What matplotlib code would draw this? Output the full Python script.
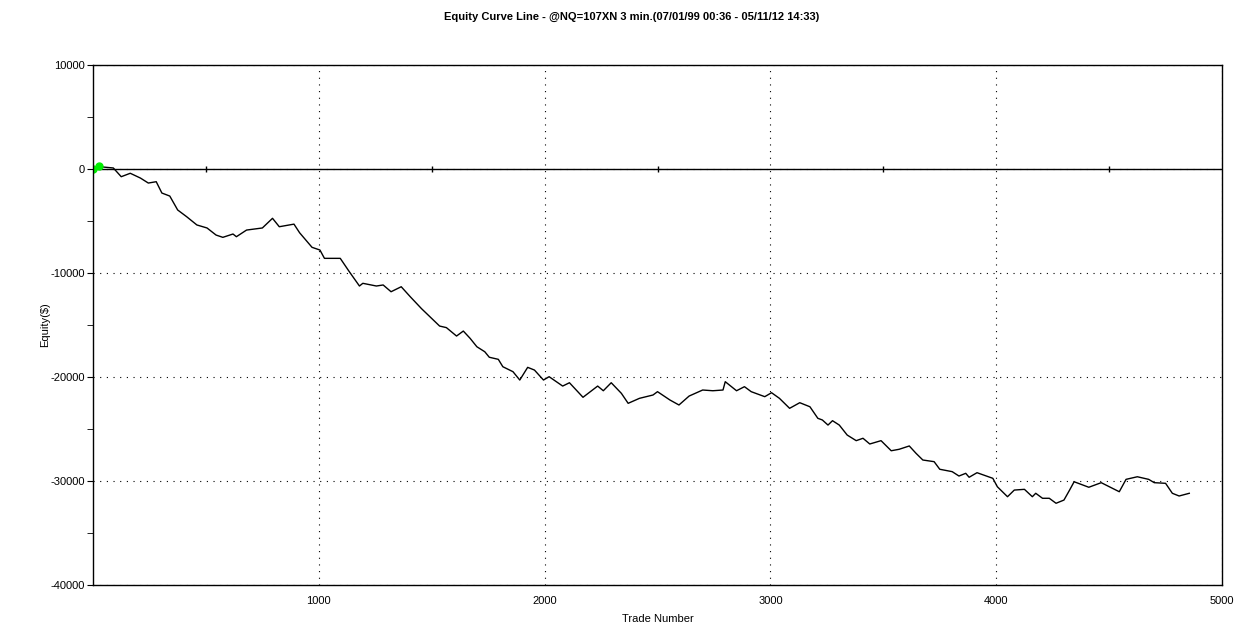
import matplotlib
matplotlib.use('Agg')
import matplotlib.pyplot as plt
import matplotlib.ticker as ticker
import numpy as np

# equity curve (trade number, equity $)
trades = [0, 30, 90, 125, 165, 210, 245, 280, 305, 340, 375, 415, 460, 505, 545, 575,
          620, 635, 680, 750, 795, 825, 870, 890, 915, 970, 1005, 1025, 1095, 1135,
          1180, 1195, 1255, 1285, 1320, 1365, 1405, 1455, 1535, 1565, 1610, 1640, 1670,
          1700, 1735, 1755, 1795, 1815, 1860, 1890, 1925, 1955, 1995, 2020, 2080, 2110,
          2170, 2235, 2260, 2295, 2340, 2370, 2420, 2480, 2500, 2555, 2595, 2640, 2700,
          2745, 2790, 2800, 2850, 2885, 2915, 2975, 3005, 3040, 3085, 3130, 3175, 3210,
          3230, 3255, 3275, 3305, 3340, 3380, 3410, 3440, 3490, 3535, 3570, 3615, 3645,
          3675, 3725, 3750, 3805, 3835, 3865, 3880, 3915, 3985, 4005, 4050, 4080, 4125,
          4160, 4175, 4205, 4235, 4265, 4300, 4325, 4345, 4410, 4465, 4515, 4545, 4575,
          4625, 4675, 4700, 4750, 4780, 4810, 4855]
equity = [0, 220, 100, -740, -410, -870, -1350, -1220, -2310, -2600, -3940, -4590, -5380,
          -5670, -6350, -6570, -6250, -6510, -5870, -5670, -4740, -5550, -5380, -5300,
          -6130, -7530, -7790, -8590, -8590, -9870, -11250, -10990, -11250, -11150,
          -11800, -11320, -12280, -13430, -15100, -15250, -16060, -15580, -16280, -17090,
          -17570, -18100, -18300, -19010, -19490, -20290, -19070, -19330, -20290, -19970,
          -20870, -20550, -21950, -20870, -21320, -20550, -21570, -22530, -22050, -21730,
          -21410, -22210, -22690, -21830, -21250, -21320, -21250, -20450, -21320, -20930,
          -21410, -21890, -21510, -22050, -23010, -22470, -22860, -23970, -24130, -24620,
          -24200, -24620, -25580, -26120, -25890, -26440, -26120, -27090, -26950, -26630,
          -27340, -27980, -28140, -28870, -29100, -29520, -29260, -29640, -29200, -29740,
          -30550, -31510, -30870, -30800, -31510, -31180, -31660, -31660, -32140, -31830,
          -30870, -30070, -30600, -30160, -30700, -31030, -29840, -29590, -29840, -30160,
          -30220, -31180, -31440, -31180]
start_trades = [0, 25]
start_equity = [0, 300]
zero_ticks = np.arange(500, 5000, 1000)

plt.rcParams['font.family'] = ['Liberation Sans', 'DejaVu Sans']
plt.rcParams['axes.unicode_minus'] = False

fig = plt.figure(figsize=(12.4, 6.33), dpi=100)
ax = fig.add_axes([0.075, 0.0758, 0.9105, 0.8215])

ax.plot(trades, equity, color='black', linewidth=1.0)
ax.axhline(0, color='black', linewidth=1.0)
ax.plot(zero_ticks, np.zeros(len(zero_ticks)), linestyle='none', marker='|',
        color='black', markersize=5, markeredgewidth=1.0)
ax.plot(start_trades, start_equity, linestyle='none', marker='o', color='#00ee00',
        markersize=5)

ax.set_xlim(0, 5000)
ax.set_ylim(-40000, 10000)
ax.xaxis.set_major_locator(ticker.FixedLocator([1000, 2000, 3000, 4000, 5000]))
ax.yaxis.set_major_locator(ticker.MultipleLocator(10000))
ax.yaxis.set_minor_locator(ticker.MultipleLocator(5000))
ax.tick_params(axis='x', which='both', length=0, labelsize=8, pad=8)
ax.tick_params(axis='y', which='major', length=4, labelsize=8, pad=2)
ax.tick_params(axis='y', which='minor', length=4)
ax.grid(which='major', color='black', linestyle=(0, (1, 5)), linewidth=0.8)

for s in ax.spines.values():
    s.set_linewidth(1.0)

ax.set_xlabel('Trade Number', fontsize=8, labelpad=6)
ax.set_ylabel('Equity($)', fontsize=8, labelpad=0)
fig.text(0.509, 0.973, 'Equity Curve Line - @NQ=107XN 3 min.(07/01/99 00:36 - 05/11/12 14:33)',
         ha='center', va='center', fontsize=8, fontweight='bold')

fig.savefig('out.png')
